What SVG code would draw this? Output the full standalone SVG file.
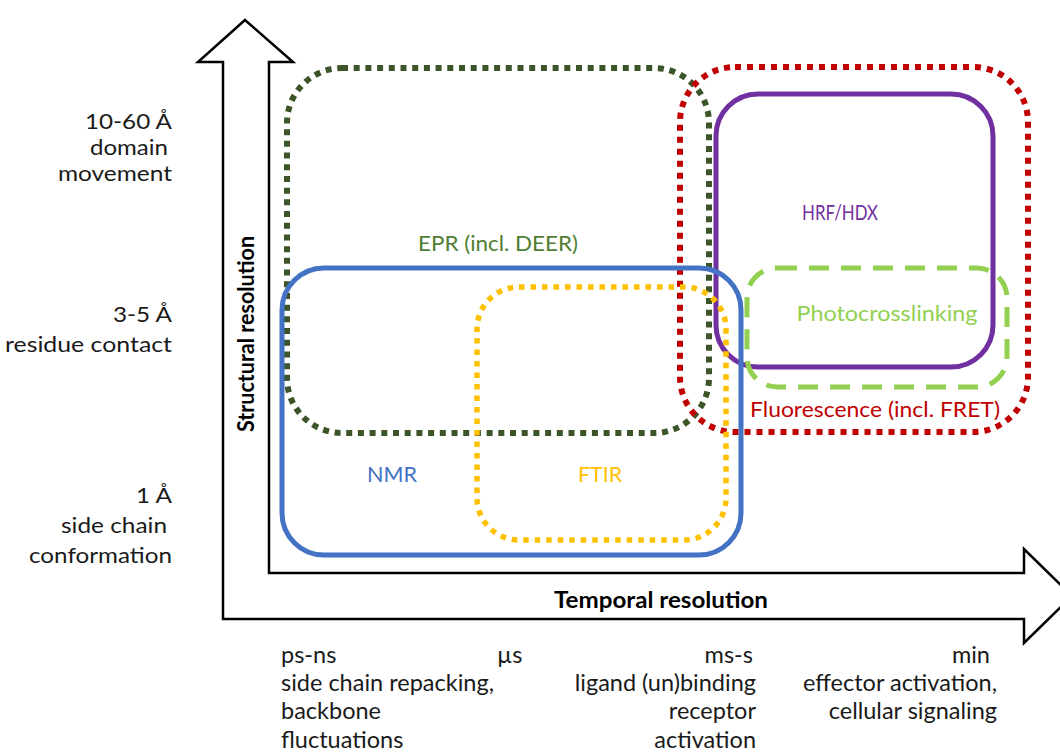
<svg xmlns="http://www.w3.org/2000/svg" width="1060" height="756" viewBox="0 0 1060 756">
  <style>
    text { font-family: Lato, "Liberation Sans", sans-serif; font-size: 21px; fill: #1a1a1a; }
    .axis-title { font-weight: bold; font-size: 22px; fill: #000; }
    .scale { font-size: 21.5px; }
    .time { font-size: 23.5px; }
    .box { fill: none; }
    .dots { stroke-linecap: butt; }
  </style>

  <rect width="1060" height="756" fill="#ffffff"/>

  <!-- combined axes: vertical and horizontal block arrows -->
  <g id="axes">
    <polygon points="245,20 293,62 269,62 269,573 1024,573 1024,549 1072,596 1024,643 1024,619 223,619 223,62 198,62"
             fill="#ffffff" stroke="#000" stroke-width="2.5" stroke-linejoin="miter"/>
    <text class="axis-title" x="661" y="608" text-anchor="middle" textLength="214" lengthAdjust="spacingAndGlyphs">Temporal resolution</text>
    <text class="axis-title" transform="translate(254,334) rotate(-90)" text-anchor="middle" font-size="20" textLength="196" lengthAdjust="spacingAndGlyphs">Structural resolution</text>
  </g>

  <!-- method ranges -->
  <g id="epr">
    <rect class="box dots" x="287" y="68" width="422" height="365" rx="55" stroke="#3b5528" stroke-width="6" stroke-dasharray="6 5.7"/>
    <text x="498" y="251" text-anchor="middle" style="fill:#507e32" textLength="160" lengthAdjust="spacingAndGlyphs">EPR (incl. DEER)</text>
  </g>

  <g id="fluorescence">
    <rect class="box dots" x="680" y="67" width="348" height="365" rx="55" stroke="#c00000" stroke-width="6" stroke-dasharray="6 6"/>
    <text x="875" y="417" text-anchor="middle" style="fill:#c00000" textLength="250" lengthAdjust="spacingAndGlyphs">Fluorescence (incl. FRET)</text>
  </g>

  <g id="hrf-hdx">
    <rect class="box" x="716" y="94" width="277" height="273" rx="42" stroke="#7030a0" stroke-width="5"/>
    <text x="840" y="220" text-anchor="middle" font-size="22" style="fill:#7030a0" textLength="76" lengthAdjust="spacingAndGlyphs">HRF/HDX</text>
  </g>

  <g id="photocrosslinking">
    <rect class="box" x="747" y="268" width="260" height="119" rx="30" stroke="#92d050" stroke-width="5" stroke-dasharray="20 12"/>
    <text x="887" y="321" text-anchor="middle" style="fill:#92d050" textLength="181" lengthAdjust="spacingAndGlyphs">Photocrosslinking</text>
  </g>

  <g id="nmr">
    <rect class="box" x="282" y="268" width="459" height="287" rx="42" stroke="#4472c4" stroke-width="5"/>
    <text x="392" y="482" text-anchor="middle" style="fill:#4472c4" textLength="50" lengthAdjust="spacingAndGlyphs">NMR</text>
  </g>

  <g id="ftir">
    <rect class="box dots" x="477" y="287" width="249" height="253" rx="42" stroke="#ffc000" stroke-width="5.5" stroke-dasharray="5.5 6"/>
    <text x="600" y="482" text-anchor="middle" style="fill:#ffc000" textLength="44" lengthAdjust="spacingAndGlyphs">FTIR</text>
  </g>

  <!-- structural scale labels -->
  <g id="structural-labels" text-anchor="end">
    <text class="scale" x="172" y="129" textLength="87" lengthAdjust="spacingAndGlyphs">10-60 Å</text>
    <text class="scale" x="168" y="155" textLength="78" lengthAdjust="spacingAndGlyphs">domain</text>
    <text class="scale" x="172" y="181" textLength="114" lengthAdjust="spacingAndGlyphs">movement</text>
    <text class="scale" x="172" y="322" textLength="59" lengthAdjust="spacingAndGlyphs">3-5 Å</text>
    <text class="scale" x="172" y="352" textLength="167" lengthAdjust="spacingAndGlyphs">residue contact</text>
    <text class="scale" x="172" y="503" textLength="36" lengthAdjust="spacingAndGlyphs">1 Å</text>
    <text class="scale" x="167" y="533" textLength="106" lengthAdjust="spacingAndGlyphs">side chain</text>
    <text class="scale" x="172" y="563" textLength="143" lengthAdjust="spacingAndGlyphs">conformation</text>
  </g>

  <!-- temporal scale labels -->
  <g id="temporal-labels">
    <text class="time" x="281" y="663">ps-ns</text>
    <text class="time" x="497" y="663">µs</text>
    <text class="time" x="753" y="663" text-anchor="end">ms-s</text>
    <text class="time" x="990" y="663" text-anchor="end">min</text>
    <text class="time" x="281" y="691">side chain repacking,</text>
    <text class="time" x="281" y="719">backbone</text>
    <text class="time" x="281" y="748">fluctuations</text>
    <text class="time" x="756" y="691" text-anchor="end">ligand (un)binding</text>
    <text class="time" x="756" y="719" text-anchor="end">receptor</text>
    <text class="time" x="756" y="748" text-anchor="end">activation</text>
    <text class="time" x="997" y="691" text-anchor="end">effector activation,</text>
    <text class="time" x="997" y="719" text-anchor="end">cellular signaling</text>
  </g>
</svg>
